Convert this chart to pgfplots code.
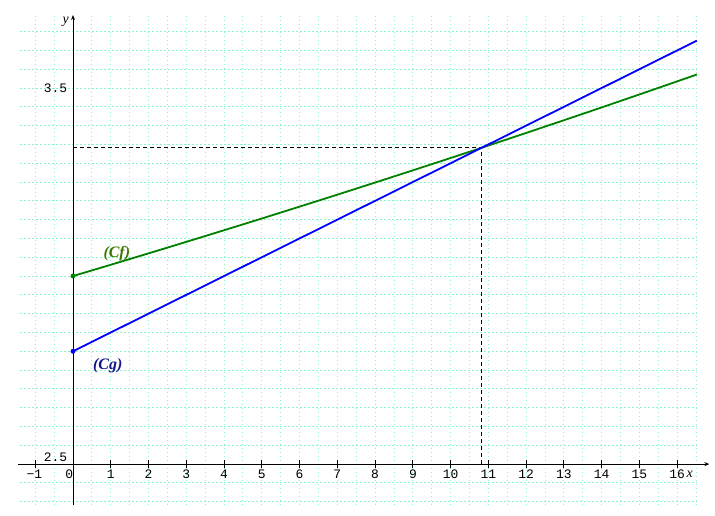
\documentclass[border=0pt]{standalone}
\usepackage{pgfplots}
\pgfplotsset{compat=1.18}
\usetikzlibrary{arrows.meta}
\usepackage{fontspec}
\setmainfont{Liberation Serif}
\newfontfamily\monofont{Liberation Mono}
\definecolor{gridc}{RGB}{135,245,200}
\definecolor{cfgreen}{RGB}{0,128,0}
\definecolor{cflabel}{RGB}{60,120,0}
\definecolor{cglabel}{RGB}{20,20,140}
\begin{document}
\begin{tikzpicture}
\begin{axis}[
  width=715bp, height=516bp, scale only axis,
  xmin=-1.933, xmax=17.0, ymin=2.362, ymax=3.734,
  axis line style={draw=none}, xtick=\empty, ytick=\empty,
  clip=true,
]
% grid
\pgfplotsinvokeforeach{-1,-0.5,...,16.5}{
  \draw[gridc, line width=0.9bp, dash pattern=on 1.5bp off 2.5bp] (axis cs:#1,2.391) -- (axis cs:#1,3.694);
}
\pgfplotsinvokeforeach{2.40,2.45,...,3.66}{
  \draw[gridc, line width=0.9bp, dash pattern=on 1.5bp off 2.5bp] (axis cs:-1.40,#1) -- (axis cs:16.52,#1);
}
% axes
\draw[black, line width=0.9bp, -{Stealth[length=5bp,width=4bp]}] (axis cs:-1.45,2.5) -- (axis cs:16.85,2.5);
\draw[black, line width=0.9bp, -{Stealth[length=5bp,width=4bp]}] (axis cs:0,2.391) -- (axis cs:0,3.694);
\pgfplotsinvokeforeach{1,2,...,16}{
  \draw[black, line width=0.9bp] (axis cs:#1,2.4895) -- (axis cs:#1,2.5105);
  \node[font=\monofont\fontsize{13}{13}\selectfont, anchor=center] at (axis cs:#1,2.4735) {#1};
}
\draw[black, line width=0.9bp] (axis cs:-1,2.4895) -- (axis cs:-1,2.5105);
\node[font=\monofont\fontsize{13}{13}\selectfont, anchor=center] at (axis cs:-1.02,2.4735) {−1};
\node[font=\monofont\fontsize{13}{13}\selectfont, anchor=center] at (axis cs:-0.1,2.4735) {0};
\node[font=\monofont\fontsize{13}{13}\selectfont, anchor=east] at (axis cs:-0.06,3.5) {3.5};
\node[font=\monofont\fontsize{13}{13}\selectfont, anchor=east] at (axis cs:-0.06,2.519) {2.5};
\node[font=\itshape\fontsize{14}{14}\selectfont] at (axis cs:-0.19,3.676) {y};
\node[font=\itshape\fontsize{14}{14}\selectfont] at (axis cs:16.33,2.4735) {x};
% dashed
\draw[black, line width=0.8bp, dash pattern=on 4bp off 3bp] (axis cs:0,3.3411) -- (axis cs:10.821,3.3411) -- (axis cs:10.821,2.5);
% curves
\addplot[cfgreen, line width=1.8bp, no markers] coordinates {
(0,3.0000) (1,3.0300) (2,3.0603) (3,3.0909) (4,3.1218) (5,3.1530) (6,3.1846)
(7,3.2164) (8,3.2486) (9,3.2811) (10,3.3139) (11,3.3470) (12,3.3805)
(13,3.4143) (14,3.4484) (15,3.4829) (16,3.5177) (16.52,3.5360)};
\addplot[blue, line width=1.8bp, no markers] coordinates {
(0,2.8) (4,3.0) (8,3.2) (12,3.4) (16.52,3.626)};
\addplot[cfgreen, only marks, mark=*, mark size=2.2bp] coordinates {(0,3.0)};
\addplot[blue, only marks, mark=*, mark size=2.2bp] coordinates {(0,2.8)};
\node[text=cflabel, font=\bfseries\itshape\fontsize{16}{16}\selectfont] at (axis cs:1.16,3.061) {(Cf)};
\node[text=cglabel, font=\bfseries\itshape\fontsize{16}{16}\selectfont] at (axis cs:0.92,2.761) {(Cg)};
\end{axis}
\end{tikzpicture}
\end{document}
